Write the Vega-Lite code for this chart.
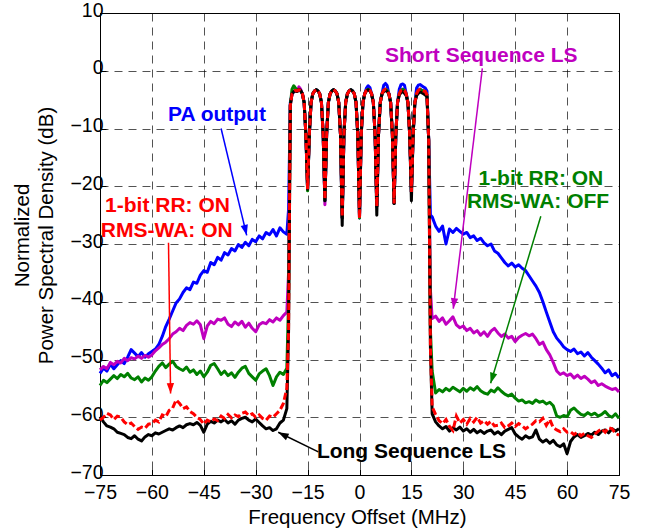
{
  "$schema": "https://vega.github.io/schema/vega-lite/v6.json",
  "width": 519,
  "height": 462,
  "autosize": {"type": "none"},
  "padding": {"left": 100, "top": 13, "right": 28, "bottom": 54},
  "background": "white",
  "config": {
    "font": "Liberation Sans",
    "view": {"stroke": "#000", "strokeWidth": 1},
    "axis": {
      "domainColor": "#000",
      "domainWidth": 1,
      "grid": true,
      "gridColor": "#000",
      "gridDash": [8, 6],
      "gridWidth": 0.8,
      "gridOpacity": 0.85,
      "tickColor": "#000",
      "ticks": true,
      "tickSize": -6,
      "labelFontSize": 19.5,
      "labelColor": "#000",
      "labelFlush": false,
      "labelOverlap": false,
      "titleFontSize": 20.5,
      "titleFontWeight": "normal",
      "titleColor": "#000"
    }
  },
  "datasets": {
    "psd": [
      {"f": -75, "pa": -52.4, "ss": -51.8, "g": -54.5, "r": -60.5, "k": -59.9},
      {"f": -74, "pa": -51.5, "ss": -51.2, "g": -53.6, "r": -60.0, "k": -60.8},
      {"f": -73, "pa": -52.0, "ss": -51.6, "g": -54.0, "r": -59.3, "k": -61.5},
      {"f": -72, "pa": -50.8, "ss": -50.5, "g": -53.4, "r": -59.6, "k": -61.7},
      {"f": -71, "pa": -51.6, "ss": -50.9, "g": -52.8, "r": -60.4, "k": -62.0},
      {"f": -70, "pa": -50.9, "ss": -50.3, "g": -53.3, "r": -59.8, "k": -62.6},
      {"f": -69, "pa": -50.2, "ss": -50.6, "g": -52.6, "r": -60.0, "k": -62.8},
      {"f": -68, "pa": -50.7, "ss": -49.8, "g": -53.0, "r": -60.8, "k": -63.0},
      {"f": -67, "pa": -49.6, "ss": -50.2, "g": -52.4, "r": -61.3, "k": -63.5},
      {"f": -66, "pa": -48.3, "ss": -49.7, "g": -53.2, "r": -61.0, "k": -63.7},
      {"f": -65, "pa": -48.9, "ss": -49.9, "g": -53.5, "r": -61.6, "k": -63.2},
      {"f": -64, "pa": -49.5, "ss": -49.4, "g": -53.0, "r": -62.1, "k": -63.8},
      {"f": -63, "pa": -48.8, "ss": -49.8, "g": -53.9, "r": -61.7, "k": -64.1},
      {"f": -62, "pa": -49.6, "ss": -49.3, "g": -53.2, "r": -61.9, "k": -63.4},
      {"f": -61, "pa": -49.0, "ss": -49.6, "g": -53.6, "r": -61.2, "k": -63.0},
      {"f": -60, "pa": -48.6, "ss": -49.2, "g": -53.0, "r": -61.1, "k": -63.2},
      {"f": -59, "pa": -48.2, "ss": -48.5, "g": -52.0, "r": -60.5, "k": -62.7},
      {"f": -58, "pa": -47.4, "ss": -48.0, "g": -51.2, "r": -60.8, "k": -62.9},
      {"f": -57, "pa": -46.0, "ss": -47.4, "g": -50.6, "r": -59.6, "k": -62.6},
      {"f": -56, "pa": -44.3, "ss": -47.0, "g": -51.4, "r": -59.9, "k": -62.3},
      {"f": -55, "pa": -43.0, "ss": -46.4, "g": -50.8, "r": -58.8, "k": -62.0},
      {"f": -54, "pa": -41.6, "ss": -45.6, "g": -50.3, "r": -58.4, "k": -62.2},
      {"f": -53, "pa": -40.2, "ss": -45.2, "g": -51.2, "r": -57.0, "k": -61.8},
      {"f": -52, "pa": -39.5, "ss": -44.6, "g": -51.6, "r": -57.6, "k": -61.5},
      {"f": -51, "pa": -38.4, "ss": -45.0, "g": -51.9, "r": -58.5, "k": -61.8},
      {"f": -50, "pa": -37.6, "ss": -44.1, "g": -51.3, "r": -58.2, "k": -61.3},
      {"f": -49, "pa": -37.9, "ss": -43.6, "g": -52.2, "r": -59.0, "k": -61.1},
      {"f": -48, "pa": -36.6, "ss": -43.9, "g": -51.8, "r": -59.4, "k": -61.3},
      {"f": -47, "pa": -36.8, "ss": -43.3, "g": -52.6, "r": -60.0, "k": -60.9},
      {"f": -46, "pa": -35.4, "ss": -44.0, "g": -52.0, "r": -60.4, "k": -61.4},
      {"f": -45, "pa": -34.6, "ss": -46.4, "g": -53.0, "r": -61.2, "k": -62.6},
      {"f": -44, "pa": -34.9, "ss": -44.2, "g": -52.2, "r": -60.5, "k": -61.2},
      {"f": -43, "pa": -33.2, "ss": -43.4, "g": -51.0, "r": -60.8, "k": -60.7},
      {"f": -42, "pa": -33.6, "ss": -43.8, "g": -50.7, "r": -60.3, "k": -61.0},
      {"f": -41, "pa": -32.3, "ss": -43.0, "g": -51.6, "r": -60.6, "k": -60.5},
      {"f": -40, "pa": -32.8, "ss": -43.2, "g": -52.6, "r": -59.8, "k": -60.8},
      {"f": -39, "pa": -31.5, "ss": -42.8, "g": -52.0, "r": -60.2, "k": -60.4},
      {"f": -38, "pa": -31.9, "ss": -43.9, "g": -52.8, "r": -59.5, "k": -61.0},
      {"f": -37, "pa": -30.8, "ss": -44.3, "g": -52.3, "r": -60.1, "k": -60.6},
      {"f": -36, "pa": -31.2, "ss": -43.5, "g": -53.1, "r": -59.6, "k": -61.2},
      {"f": -35, "pa": -30.1, "ss": -44.0, "g": -52.2, "r": -59.9, "k": -60.5},
      {"f": -34, "pa": -30.6, "ss": -43.4, "g": -51.5, "r": -59.3, "k": -60.2},
      {"f": -33, "pa": -29.7, "ss": -44.4, "g": -51.2, "r": -59.1, "k": -60.0},
      {"f": -32, "pa": -30.3, "ss": -43.7, "g": -52.4, "r": -59.7, "k": -60.5},
      {"f": -31, "pa": -29.2, "ss": -44.6, "g": -53.0, "r": -59.4, "k": -60.8},
      {"f": -30, "pa": -29.6, "ss": -45.2, "g": -53.6, "r": -60.0, "k": -60.3},
      {"f": -29, "pa": -28.6, "ss": -44.0, "g": -52.5, "r": -59.6, "k": -60.9},
      {"f": -28, "pa": -29.1, "ss": -43.6, "g": -52.0, "r": -60.2, "k": -61.5},
      {"f": -27, "pa": -28.0, "ss": -43.8, "g": -51.6, "r": -60.5, "k": -62.0},
      {"f": -26, "pa": -28.4, "ss": -43.1, "g": -52.8, "r": -59.8, "k": -61.8},
      {"f": -25, "pa": -27.5, "ss": -43.5, "g": -54.5, "r": -60.0, "k": -62.3},
      {"f": -24, "pa": -28.6, "ss": -42.8, "g": -53.0, "r": -59.4, "k": -62.0},
      {"f": -23, "pa": -27.2, "ss": -43.2, "g": -52.2, "r": -58.8, "k": -61.0},
      {"f": -22, "pa": -27.9, "ss": -42.4, "g": -52.6, "r": -57.6, "k": -60.5},
      {"f": -21, "pa": -28.3, "ss": -41.8, "g": -51.5, "r": -55.0, "k": -58.5},
      {"f": -20.5, "pa": -24, "ss": -35, "g": -40, "r": -45, "k": -45},
      {"f": -20, "pa": -5.5, "ss": -6, "g": -6, "r": -6, "k": -6},
      {"f": -19.5, "pa": -4.0, "ss": -4.0, "g": -3.2, "r": -4.0, "k": -4.0},
      {"f": -19, "pa": -3.6, "ss": -3.6, "g": -2.6, "r": -3.6, "k": -3.6},
      {"f": -18.5, "pa": -3.4, "ss": -3.4, "g": -3.0, "r": -3.4, "k": -3.5},
      {"f": -18, "pa": -3.5, "ss": -3.5, "g": -3.5, "r": -3.5, "k": -3.6},
      {"f": -17.5, "pa": -3.3, "ss": -2.8, "g": -3.3, "r": -3.3, "k": -3.2},
      {"f": -17, "pa": -3.5, "ss": -3.2, "g": -3.5, "r": -3.5, "k": -3.4},
      {"f": -16.5, "pa": -4.0, "ss": -4.0, "g": -4.0, "r": -4.0, "k": -4.0},
      {"f": -16, "pa": -5.5, "ss": -5.5, "g": -5.5, "r": -5.5, "k": -5.5},
      {"f": -15.5, "pa": -11, "ss": -11, "g": -11, "r": -11, "k": -11},
      {"f": -15, "pa": -20.5, "ss": -20.3, "g": -20.8, "r": -20.5, "k": -20.5},
      {"f": -14.5, "pa": -11, "ss": -11, "g": -11, "r": -11, "k": -11},
      {"f": -14, "pa": -5.5, "ss": -5.5, "g": -5.5, "r": -5.5, "k": -5.5},
      {"f": -13.5, "pa": -4.0, "ss": -4.0, "g": -4.0, "r": -4.0, "k": -4.0},
      {"f": -13, "pa": -3.5, "ss": -3.5, "g": -3.5, "r": -3.5, "k": -3.5},
      {"f": -12.5, "pa": -3.3, "ss": -3.3, "g": -3.3, "r": -3.3, "k": -3.3},
      {"f": -12, "pa": -3.5, "ss": -3.5, "g": -3.5, "r": -3.5, "k": -3.5},
      {"f": -11.5, "pa": -4.0, "ss": -4.0, "g": -4.0, "r": -4.0, "k": -4.0},
      {"f": -11, "pa": -5.5, "ss": -5.5, "g": -5.5, "r": -5.5, "k": -5.5},
      {"f": -10.5, "pa": -11, "ss": -11, "g": -11, "r": -11, "k": -11},
      {"f": -10, "pa": -22.5, "ss": -23.2, "g": -22.5, "r": -22.3, "k": -22.5},
      {"f": -9.5, "pa": -11, "ss": -11, "g": -11, "r": -11, "k": -11},
      {"f": -9, "pa": -5.5, "ss": -5.5, "g": -5.5, "r": -5.5, "k": -5.5},
      {"f": -8.5, "pa": -4.0, "ss": -4.0, "g": -4.0, "r": -4.0, "k": -4.0},
      {"f": -8, "pa": -3.5, "ss": -3.5, "g": -3.5, "r": -3.5, "k": -3.5},
      {"f": -7.5, "pa": -3.3, "ss": -3.3, "g": -3.3, "r": -3.3, "k": -3.3},
      {"f": -7, "pa": -3.5, "ss": -3.5, "g": -3.5, "r": -3.5, "k": -3.5},
      {"f": -6.5, "pa": -4.0, "ss": -4.0, "g": -4.0, "r": -4.0, "k": -4.0},
      {"f": -6, "pa": -5.5, "ss": -5.5, "g": -5.5, "r": -5.5, "k": -5.5},
      {"f": -5.5, "pa": -11, "ss": -11, "g": -11, "r": -11, "k": -11},
      {"f": -5, "pa": -25.5, "ss": -25.5, "g": -25.5, "r": -25.3, "k": -26.8},
      {"f": -4.5, "pa": -11, "ss": -11, "g": -11, "r": -11, "k": -11},
      {"f": -4, "pa": -5.5, "ss": -5.5, "g": -5.5, "r": -5.5, "k": -5.5},
      {"f": -3.5, "pa": -4.0, "ss": -4.0, "g": -4.0, "r": -4.0, "k": -4.0},
      {"f": -3, "pa": -3.5, "ss": -3.5, "g": -3.5, "r": -3.5, "k": -3.5},
      {"f": -2.5, "pa": -3.3, "ss": -3.3, "g": -3.3, "r": -3.3, "k": -3.3},
      {"f": -2, "pa": -3.5, "ss": -3.5, "g": -3.5, "r": -3.5, "k": -3.5},
      {"f": -1.5, "pa": -4.0, "ss": -4.0, "g": -4.0, "r": -4.0, "k": -4.0},
      {"f": -1, "pa": -5.5, "ss": -5.5, "g": -5.5, "r": -5.5, "k": -5.5},
      {"f": -0.5, "pa": -11, "ss": -11, "g": -11, "r": -11, "k": -11},
      {"f": 0, "pa": -25.5, "ss": -25.5, "g": -25.5, "r": -25.6, "k": -25.0},
      {"f": 0.5, "pa": -11, "ss": -11, "g": -11, "r": -11, "k": -11},
      {"f": 1, "pa": -5.5, "ss": -5.5, "g": -5.5, "r": -5.5, "k": -5.5},
      {"f": 1.5, "pa": -4.0, "ss": -4.0, "g": -4.0, "r": -4.0, "k": -4.0},
      {"f": 2, "pa": -3.0, "ss": -3.4, "g": -3.4, "r": -3.4, "k": -3.5},
      {"f": 2.5, "pa": -2.6, "ss": -3.2, "g": -3.2, "r": -3.2, "k": -3.3},
      {"f": 3, "pa": -2.9, "ss": -3.4, "g": -3.4, "r": -3.4, "k": -3.5},
      {"f": 3.5, "pa": -4.0, "ss": -4.0, "g": -4.0, "r": -4.0, "k": -4.0},
      {"f": 4, "pa": -5.5, "ss": -5.5, "g": -5.5, "r": -5.5, "k": -5.5},
      {"f": 4.5, "pa": -11, "ss": -11, "g": -11, "r": -11, "k": -11},
      {"f": 5, "pa": -23.5, "ss": -23.5, "g": -23.5, "r": -23.5, "k": -25.0},
      {"f": 5.5, "pa": -11, "ss": -11, "g": -11, "r": -11, "k": -11},
      {"f": 6, "pa": -5.5, "ss": -5.5, "g": -5.5, "r": -5.5, "k": -5.5},
      {"f": 6.5, "pa": -4.0, "ss": -4.0, "g": -4.0, "r": -4.0, "k": -4.0},
      {"f": 7, "pa": -2.5, "ss": -3.4, "g": -3.4, "r": -3.4, "k": -3.6},
      {"f": 7.5, "pa": -2.2, "ss": -3.2, "g": -3.2, "r": -3.2, "k": -3.4},
      {"f": 8, "pa": -2.6, "ss": -3.4, "g": -3.4, "r": -3.4, "k": -3.6},
      {"f": 8.5, "pa": -4.0, "ss": -4.0, "g": -4.0, "r": -4.0, "k": -4.0},
      {"f": 9, "pa": -5.5, "ss": -5.5, "g": -5.5, "r": -5.5, "k": -5.5},
      {"f": 9.5, "pa": -11, "ss": -11, "g": -11, "r": -11, "k": -11},
      {"f": 10, "pa": -23, "ss": -23, "g": -23, "r": -23, "k": -23},
      {"f": 10.5, "pa": -11, "ss": -11, "g": -11, "r": -11, "k": -11},
      {"f": 11, "pa": -5.5, "ss": -5.5, "g": -5.5, "r": -5.5, "k": -5.5},
      {"f": 11.5, "pa": -3.2, "ss": -4.0, "g": -4.0, "r": -4.0, "k": -4.2},
      {"f": 12, "pa": -2.4, "ss": -3.4, "g": -3.4, "r": -3.4, "k": -3.8},
      {"f": 12.5, "pa": -2.3, "ss": -3.2, "g": -3.2, "r": -3.2, "k": -3.6},
      {"f": 13, "pa": -2.5, "ss": -3.4, "g": -3.4, "r": -3.4, "k": -3.9},
      {"f": 13.5, "pa": -4.0, "ss": -4.0, "g": -4.0, "r": -4.0, "k": -4.3},
      {"f": 14, "pa": -5.5, "ss": -5.5, "g": -5.5, "r": -5.5, "k": -5.5},
      {"f": 14.5, "pa": -11, "ss": -11, "g": -11, "r": -11, "k": -11},
      {"f": 15, "pa": -21, "ss": -21, "g": -21, "r": -21, "k": -22.5},
      {"f": 15.5, "pa": -11, "ss": -11, "g": -11, "r": -11, "k": -11},
      {"f": 16, "pa": -5.5, "ss": -5.5, "g": -5.5, "r": -5.5, "k": -5.5},
      {"f": 16.5, "pa": -3.0, "ss": -4.0, "g": -4.0, "r": -4.0, "k": -4.3},
      {"f": 17, "pa": -2.5, "ss": -3.4, "g": -3.4, "r": -3.4, "k": -3.9},
      {"f": 17.5, "pa": -2.4, "ss": -3.2, "g": -3.2, "r": -3.2, "k": -3.7},
      {"f": 18, "pa": -2.6, "ss": -3.4, "g": -3.4, "r": -3.4, "k": -3.8},
      {"f": 18.5, "pa": -2.8, "ss": -3.5, "g": -3.5, "r": -3.5, "k": -4.0},
      {"f": 19, "pa": -3.0, "ss": -3.6, "g": -3.6, "r": -3.6, "k": -4.2},
      {"f": 19.5, "pa": -3.5, "ss": -4.2, "g": -4.2, "r": -4.2, "k": -4.5},
      {"f": 20, "pa": -12, "ss": -12, "g": -12, "r": -12, "k": -12},
      {"f": 20.5, "pa": -25, "ss": -38, "g": -45, "r": -48, "k": -48},
      {"f": 21, "pa": -25.3, "ss": -42.9, "g": -52.0, "r": -58.2, "k": -59.4},
      {"f": 22, "pa": -26.9, "ss": -42.5, "g": -55.8, "r": -59.5, "k": -60.8},
      {"f": 23, "pa": -27.8, "ss": -43.4, "g": -55.2, "r": -60.6, "k": -61.5},
      {"f": 24, "pa": -26.9, "ss": -42.8, "g": -55.6, "r": -61.1, "k": -62.0},
      {"f": 25, "pa": -30.0, "ss": -43.9, "g": -55.0, "r": -60.4, "k": -61.6},
      {"f": 26, "pa": -27.4, "ss": -43.3, "g": -55.4, "r": -61.6, "k": -62.4},
      {"f": 27, "pa": -28.0, "ss": -42.6, "g": -54.8, "r": -62.3, "k": -61.8},
      {"f": 28, "pa": -27.3, "ss": -44.0, "g": -55.2, "r": -59.8, "k": -62.2},
      {"f": 29, "pa": -27.8, "ss": -44.5, "g": -55.6, "r": -61.0, "k": -61.7},
      {"f": 30, "pa": -28.3, "ss": -44.2, "g": -55.0, "r": -60.4, "k": -62.4},
      {"f": 31, "pa": -28.0, "ss": -45.0, "g": -55.5, "r": -61.2, "k": -62.0},
      {"f": 32, "pa": -28.9, "ss": -44.6, "g": -54.9, "r": -60.2, "k": -62.6},
      {"f": 33, "pa": -28.6, "ss": -45.4, "g": -55.3, "r": -60.8, "k": -62.1},
      {"f": 34, "pa": -29.4, "ss": -45.0, "g": -54.7, "r": -60.0, "k": -62.7},
      {"f": 35, "pa": -29.0, "ss": -45.8, "g": -55.4, "r": -61.0, "k": -62.3},
      {"f": 36, "pa": -29.8, "ss": -45.2, "g": -55.8, "r": -60.6, "k": -62.8},
      {"f": 37, "pa": -30.3, "ss": -46.0, "g": -56.0, "r": -61.2, "k": -62.4},
      {"f": 38, "pa": -30.0, "ss": -45.1, "g": -55.3, "r": -60.7, "k": -62.2},
      {"f": 39, "pa": -31.2, "ss": -44.6, "g": -55.6, "r": -61.5, "k": -62.9},
      {"f": 40, "pa": -31.6, "ss": -45.4, "g": -54.9, "r": -61.4, "k": -62.5},
      {"f": 41, "pa": -32.4, "ss": -46.0, "g": -55.5, "r": -61.0, "k": -63.0},
      {"f": 42, "pa": -33.2, "ss": -45.6, "g": -56.0, "r": -61.8, "k": -62.4},
      {"f": 43, "pa": -33.8, "ss": -46.3, "g": -56.3, "r": -61.5, "k": -62.1},
      {"f": 44, "pa": -33.3, "ss": -46.0, "g": -56.0, "r": -61.0, "k": -61.8},
      {"f": 45, "pa": -34.0, "ss": -46.9, "g": -56.7, "r": -61.6, "k": -62.9},
      {"f": 46, "pa": -33.6, "ss": -46.2, "g": -57.2, "r": -61.1, "k": -63.4},
      {"f": 47, "pa": -34.2, "ss": -45.8, "g": -57.0, "r": -61.5, "k": -63.8},
      {"f": 48, "pa": -34.6, "ss": -45.5, "g": -57.5, "r": -62.0, "k": -63.2},
      {"f": 49, "pa": -35.5, "ss": -45.9, "g": -57.3, "r": -61.6, "k": -63.6},
      {"f": 50, "pa": -36.4, "ss": -45.6, "g": -57.6, "r": -61.2, "k": -63.4},
      {"f": 51, "pa": -37.3, "ss": -46.4, "g": -57.0, "r": -60.6, "k": -62.2},
      {"f": 52, "pa": -38.4, "ss": -47.4, "g": -57.4, "r": -60.8, "k": -63.8},
      {"f": 53, "pa": -40.0, "ss": -47.0, "g": -57.2, "r": -60.2, "k": -64.3},
      {"f": 54, "pa": -41.8, "ss": -48.3, "g": -57.7, "r": -61.4, "k": -63.9},
      {"f": 55, "pa": -43.5, "ss": -49.2, "g": -57.4, "r": -60.4, "k": -64.5},
      {"f": 56, "pa": -45.2, "ss": -50.5, "g": -58.0, "r": -61.8, "k": -64.0},
      {"f": 57, "pa": -46.3, "ss": -52.0, "g": -59.8, "r": -62.2, "k": -64.8},
      {"f": 58, "pa": -47.0, "ss": -52.6, "g": -60.0, "r": -62.5, "k": -65.1},
      {"f": 59, "pa": -47.8, "ss": -52.3, "g": -59.7, "r": -62.0, "k": -64.6},
      {"f": 60, "pa": -48.3, "ss": -52.8, "g": -59.9, "r": -62.6, "k": -66.3},
      {"f": 61, "pa": -48.6, "ss": -52.5, "g": -58.8, "r": -62.5, "k": -64.2},
      {"f": 62, "pa": -48.2, "ss": -53.2, "g": -58.4, "r": -63.0, "k": -63.4},
      {"f": 63, "pa": -49.0, "ss": -52.7, "g": -59.0, "r": -62.6, "k": -63.0},
      {"f": 64, "pa": -48.7, "ss": -53.3, "g": -59.5, "r": -63.2, "k": -63.5},
      {"f": 65, "pa": -49.4, "ss": -52.9, "g": -59.7, "r": -62.8, "k": -63.2},
      {"f": 66, "pa": -48.8, "ss": -53.4, "g": -59.2, "r": -63.2, "k": -62.8},
      {"f": 67, "pa": -49.6, "ss": -54.0, "g": -59.6, "r": -63.5, "k": -63.1},
      {"f": 68, "pa": -50.2, "ss": -53.7, "g": -59.3, "r": -62.9, "k": -62.6},
      {"f": 69, "pa": -50.8, "ss": -54.5, "g": -59.8, "r": -62.4, "k": -63.0},
      {"f": 70, "pa": -51.5, "ss": -54.2, "g": -59.5, "r": -62.0, "k": -62.4},
      {"f": 71, "pa": -52.3, "ss": -54.6, "g": -59.0, "r": -62.6, "k": -62.2},
      {"f": 72, "pa": -51.8, "ss": -54.9, "g": -59.7, "r": -61.8, "k": -62.7},
      {"f": 73, "pa": -52.8, "ss": -55.2, "g": -60.0, "r": -62.0, "k": -62.0},
      {"f": 74, "pa": -52.4, "ss": -55.0, "g": -59.4, "r": -62.8, "k": -62.4},
      {"f": 75, "pa": -53.2, "ss": -55.6, "g": -60.2, "r": -63.1, "k": -62.0}
    ],
    "notes": [
      {"who": "pa", "label": "PA output", "x": -41.2, "y": -7.7},
      {"who": "r", "label": "1-bit RR: ON", "x": -55.5, "y": -23.4},
      {"who": "r", "label": "RMS-WA: ON", "x": -55.7, "y": -27.7},
      {"who": "ss", "label": "Short Sequence LS", "x": 35.2, "y": 2.5},
      {"who": "g", "label": "1-bit RR: ON", "x": 52.4, "y": -18.7},
      {"who": "g", "label": "RMS-WA: OFF", "x": 51.6, "y": -22.7},
      {"who": "k", "label": "Long Sequence LS", "x": 15.0, "y": -66.0}
    ],
    "arrows": [
      {"who": "pa", "x": -40.0, "y": -10.0, "x2": -32.6, "y2": -28.5},
      {"who": "r", "x": -55.2, "y": -29.8, "x2": -54.6, "y2": -55.9},
      {"who": "ss", "x": 35.5, "y": 0.4, "x2": 27.1, "y2": -41.2},
      {"who": "g", "x": 52.4, "y": -25.2, "x2": 37.9, "y2": -54.1},
      {"who": "k", "x": -11.9, "y": -66.0, "x2": -23.5, "y2": -62.6}
    ]
  },
  "layer": [
    {
      "data": {"name": "psd"},
      "transform": [{"fold": ["pa"], "as": ["series", "v"]}],
      "mark": {"type": "line", "color": "#0000FF", "strokeWidth": 3, "strokeJoin": "round"},
      "encoding": {
        "x": {"field": "f", "type": "quantitative", "scale": {"domain": [-75, 75], "nice": false, "zero": false},
          "axis": {"values": [-75, -60, -45, -30, -15, 0, 15, 30, 45, 60, 75], "title": "Frequency Offset (MHz)", "labelPadding": 14, "titleX": 257, "titleY": 42, "titleBaseline": "middle", "titleAnchor": null}},
        "y": {"field": "v", "type": "quantitative", "scale": {"domain": [-70, 10], "nice": false, "zero": false},
          "axis": {"values": [-70, -60, -50, -40, -30, -20, -10, 0, 10], "title": ["Normalized", "Power Spectral Density (dB)"], "labelPadding": 3, "labelOffset": -3, "titleX": -78, "titleY": 222, "titleBaseline": "middle", "titleAlign": "center", "titleLineHeight": 24}}
      }
    },
    {
      "data": {"name": "psd"},
      "transform": [{"fold": ["ss"], "as": ["series", "v"]}],
      "mark": {"type": "line", "color": "#BF00BF", "strokeWidth": 3, "strokeJoin": "round"},
      "encoding": {"x": {"field": "f", "type": "quantitative"}, "y": {"field": "v", "type": "quantitative"}}
    },
    {
      "data": {"name": "psd"},
      "transform": [{"fold": ["g"], "as": ["series", "v"]}],
      "mark": {"type": "line", "color": "#008000", "strokeWidth": 3, "strokeJoin": "round"},
      "encoding": {"x": {"field": "f", "type": "quantitative"}, "y": {"field": "v", "type": "quantitative"}}
    },
    {
      "data": {"name": "psd"},
      "transform": [{"fold": ["k"], "as": ["series", "v"]}],
      "mark": {"type": "line", "color": "#000000", "strokeWidth": 3, "strokeJoin": "round"},
      "encoding": {"x": {"field": "f", "type": "quantitative"}, "y": {"field": "v", "type": "quantitative"}}
    },
    {
      "data": {"name": "psd"},
      "transform": [{"fold": ["r"], "as": ["series", "v"]}],
      "mark": {"type": "line", "color": "#FF0000", "strokeWidth": 3, "strokeDash": [7, 3]},
      "encoding": {"x": {"field": "f", "type": "quantitative"}, "y": {"field": "v", "type": "quantitative"}}
    },
    {
      "data": {"name": "arrows"},
      "mark": {"type": "rule", "strokeWidth": 1.5},
      "encoding": {
        "x": {"field": "x", "type": "quantitative"},
        "y": {"field": "y", "type": "quantitative"},
        "x2": {"field": "x2"},
        "y2": {"field": "y2"},
        "color": {"field": "who", "type": "nominal", "scale": {"domain": ["pa", "ss", "g", "r", "k"], "range": ["#0000FF", "#BF00BF", "#008000", "#FF0000", "#000000"]}, "legend": null}
      }
    },
    {
      "data": {"name": "arrows"},
      "mark": {"type": "point", "shape": "M0,0L-0.35,1L0.35,1Z", "filled": true, "size": 440, "opacity": 1},
      "encoding": {
        "x": {"field": "x2", "type": "quantitative"},
        "y": {"field": "y2", "type": "quantitative"},
        "angle": {"condition": [
          {"test": "datum.who == 'pa'", "value": 166.5},
          {"test": "datum.who == 'ss'", "value": 186.9},
          {"test": "datum.who == 'g'", "value": 196.7},
          {"test": "datum.who == 'k'", "value": 296.6}
        ], "value": 179},
        "color": {"field": "who", "type": "nominal", "legend": null}
      }
    },
    {
      "data": {"name": "notes"},
      "mark": {"type": "text", "fontSize": 21, "fontWeight": "bold", "align": "center", "baseline": "middle"},
      "encoding": {
        "x": {"field": "x", "type": "quantitative"},
        "y": {"field": "y", "type": "quantitative"},
        "text": {"field": "label"},
        "color": {"field": "who", "type": "nominal", "legend": null}
      }
    }
  ]
}
